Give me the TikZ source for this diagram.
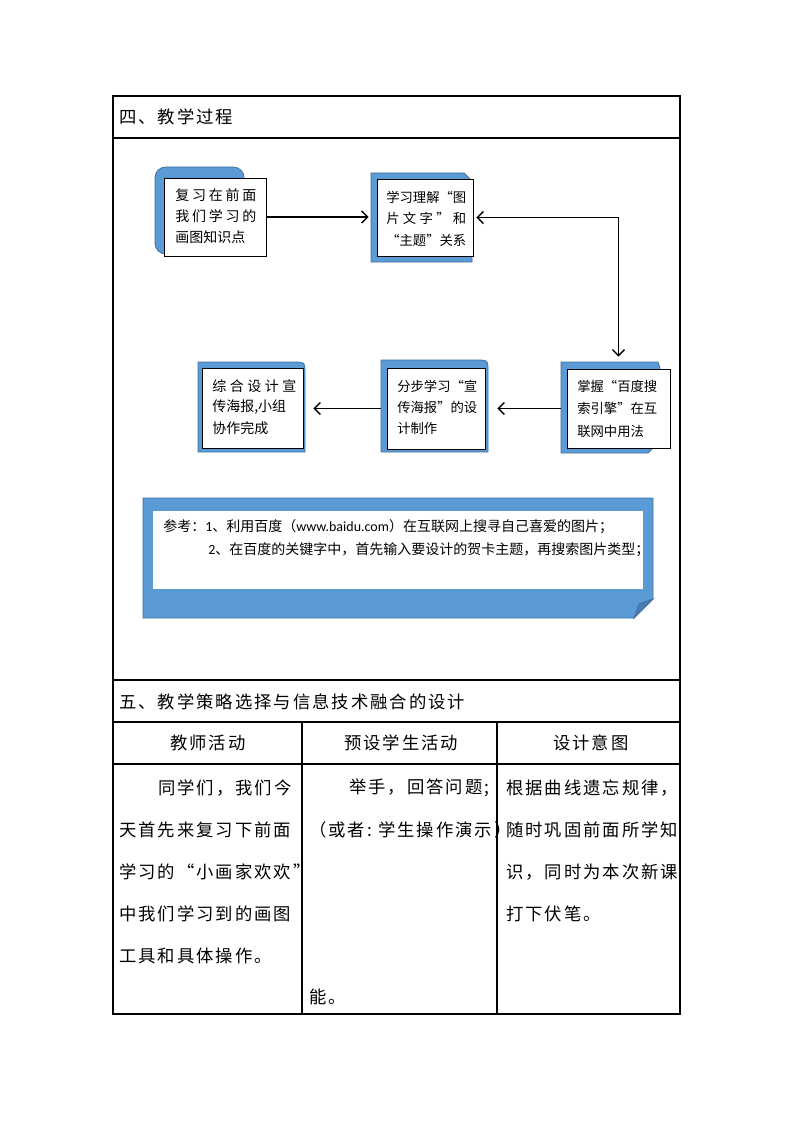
\documentclass[tikz,border=0pt]{standalone}
\usepackage{fontspec}
\setmainfont{Noto Sans CJK SC}
\newfontfamily\lat{Carlito}
\usetikzlibrary{arrows.meta}
\newdimen\kk \kk=1.5pt
\def\kt#1{\ktB#1\relax}
\def\ktB#1#2{#1\ifx#2\relax\else\kern\kk\expandafter\ktB\expandafter#2\fi}
\newcommand\spr[2]{\makebox[#1][l]{\sprB#2\relax}}
\def\sprB#1#2{#1\ifx#2\relax\else\hfill\expandafter\sprB\expandafter#2\fi}
\definecolor{bfill}{HTML}{5B9BD5}
\definecolor{bline}{HTML}{41719C}
\definecolor{bfold}{HTML}{4A7EB3}
\tikzset{
  bshape/.style={fill=bfill, draw=bline, line width=0.6pt},
  wbox/.style={draw=black, fill=white, line width=0.6pt, inner sep=0pt},
  txt/.style={inner sep=0pt, anchor=west, font=\fontsize{10}{12}\selectfont},
  txtb/.style={inner sep=0pt, anchor=west, font=\fontsize{10.5}{12}\selectfont},
  tt/.style={inner sep=0pt, anchor=west, font=\fontsize{13}{15}\selectfont},
  ttc/.style={inner sep=0pt, anchor=center, font=\fontsize{13}{15}\selectfont},
  arr/.style={line width=1.1pt, -{Straight Barb[length=4.5pt,width=9pt]}},
  darr/.style={line width=1.1pt, {Straight Barb[length=4.5pt,width=9pt]}-{Straight Barb[length=4.5pt,width=9pt]}},
  tline/.style={line width=0.8pt, draw=black}
}
\begin{document}
\begin{tikzpicture}[x=0.75pt,y=-0.75pt]
\useasboundingbox (0,0) rectangle (794,1123);
\fill[white] (0,0) rectangle (794,1123);

% ---------- table frame ----------
\draw[tline] (113,96) rectangle (680,1014);
\draw[tline] (113,138) -- (680,138);
\draw[tline] (113,680) -- (680,680);
\draw[tline] (113,722) -- (680,722);
\draw[tline] (113,764) -- (680,764);
\draw[tline] (302,722) -- (302,1014);
\draw[tline] (497,722) -- (497,1014);

\node[tt] (h4) at (119,117) {\kt{四、教学过程}};
\node[tt] (h5) at (119,702) {\kt{五、教学策略选择与信息技术融合的设计}};
\node[ttc] (c1) at (208,743) {\kt{教师活动}};
\node[ttc] (c2) at (401,743) {\kt{预设学生活动}};
\node[ttc] (c3) at (591,743) {\kt{设计意图}};

\node[tt] (t11) at (158,788) {\kt{同学们，我们今}};
\node[tt] (t12) at (119,830) {\kt{天首先来复习下前面}};
\node[tt] (t13) at (119,872) {\kt{学习的“小画家欢欢”}};
\node[tt] (t14) at (119,914) {\kt{中我们学习到的画图}};
\node[tt] (t15) at (119,956) {\kt{工具和具体操作。}};

\node[tt] (t21) at (349,788) {\kt{举手，回答问题;}};
\node[tt] (t22) at (309,830) {\kt{（或者:}\kern4.5pt\kt{学生操作演示）}};
\node[tt] (t23) at (309,997) {\kt{能。}};

\node[tt] (t31) at (506,788) {\kt{根据曲线遗忘规律，}};
\node[tt] (t32) at (506,830) {\kt{随时巩固前面所学知}};
\node[tt] (t33) at (506,872) {\kt{识，同时为本次新课}};
\node[tt] (t34) at (506,914) {\kt{打下伏笔。}};

% ---------- blue backing shapes ----------
\draw[bshape, rounded corners=8pt] (155,167) rectangle (244,254);
\draw[bshape] (371,173) -- (464,173) -- (472,181) -- (472,262) -- (371,262) -- cycle;
\draw[bshape] (561,362) -- (658,362) -- (660,368) -- (660,441) -- (648,453) -- (561,453) -- cycle;
\draw[bshape] (381,452) -- (381,360) -- (476,360) .. controls (488,360) .. (488,372) -- (488,452) -- cycle;
\draw[bshape] (198,452) -- (198,362) -- (293,362) .. controls (305,362) .. (305,374) -- (305,452) -- cycle;
\draw[bshape] (143,498) -- (653,498) -- (653,599) -- (634,618) -- (143,618) -- cycle;
\draw[fill=bfold, draw=bline, line width=0.6pt] (634,618) -- (639,604) -- (653,599) -- cycle;

% ---------- white boxes ----------
\node[wbox, minimum width=76.5pt, minimum height=58.5pt] (A) at (215,217) {};
\node[wbox, minimum width=72pt, minimum height=57.75pt] (B) at (425,217.5) {};
\node[wbox, minimum width=77.25pt, minimum height=59.25pt] (C) at (618.5,408.5) {};
\node[wbox, minimum width=73.5pt, minimum height=60.75pt] (D) at (436,408.5) {};
\node[wbox, minimum width=75.75pt, minimum height=60pt] (E) at (252.5,408) {};
\node[draw=none, fill=white, inner sep=0pt, minimum width=367.5pt, minimum height=58.5pt] (N) at (398,550) {};

% ---------- box texts ----------
\node[txtb] (a1) at (175,195) {\spr{60.75pt}{复习在前面}};
\node[txtb] (a2) at (175,216) {\spr{60.75pt}{我们学习的}};
\node[txtb] (a3) at (175,237) {画图知识点};

\node[txt] (b1) at (386,197) {学习理解“图};
\node[txt] (b2) at (386,218) {\spr{60pt}{片文字”和}};
\node[txt] (b3) at (386,240) {“主题”关系};

\node[txt] (cc1) at (577,386) {掌握“百度搜};
\node[txt] (cc2) at (577,408) {索引擎”在互};
\node[txt] (cc3) at (577,431) {联网中用法};

\node[txt] (d1) at (397,386) {分步学习“宣};
\node[txt] (d2) at (397,407) {传海报”的设};
\node[txt] (d3) at (397,428) {计制作};

\node[txtb] (e1) at (212,386) {\spr{63pt}{综合设计宣}};
\node[txtb] (e2) at (212,407) {传海报,小组};
\node[txtb] (e3) at (212,428) {协作完成};

\node[txtb] (n1) at (163,527) {参考：{\lat 1}、利用百度（{\lat www.baidu.com}）在互联网上搜寻自己喜爱的图片；};
\node[txtb] (n2) at (208,550) {{\lat 2}、在百度的关键字中，首先输入要设计的贺卡主题，再搜索图片类型；};

% ---------- connectors ----------
\draw[arr] (A.east) -- ([xshift=-6pt]A.east -| B.west);
\draw[darr] ([xshift=2.25pt]B.east) -| ([yshift=9pt]C.north);
\draw[arr] ([xshift=-4.5pt]C.west) -- ([xshift=9pt]C.west -| D.east);
\draw[arr] ([xshift=-4.5pt]D.west) -- ([xshift=7.5pt]D.west -| E.east);
\end{tikzpicture}
\end{document}
